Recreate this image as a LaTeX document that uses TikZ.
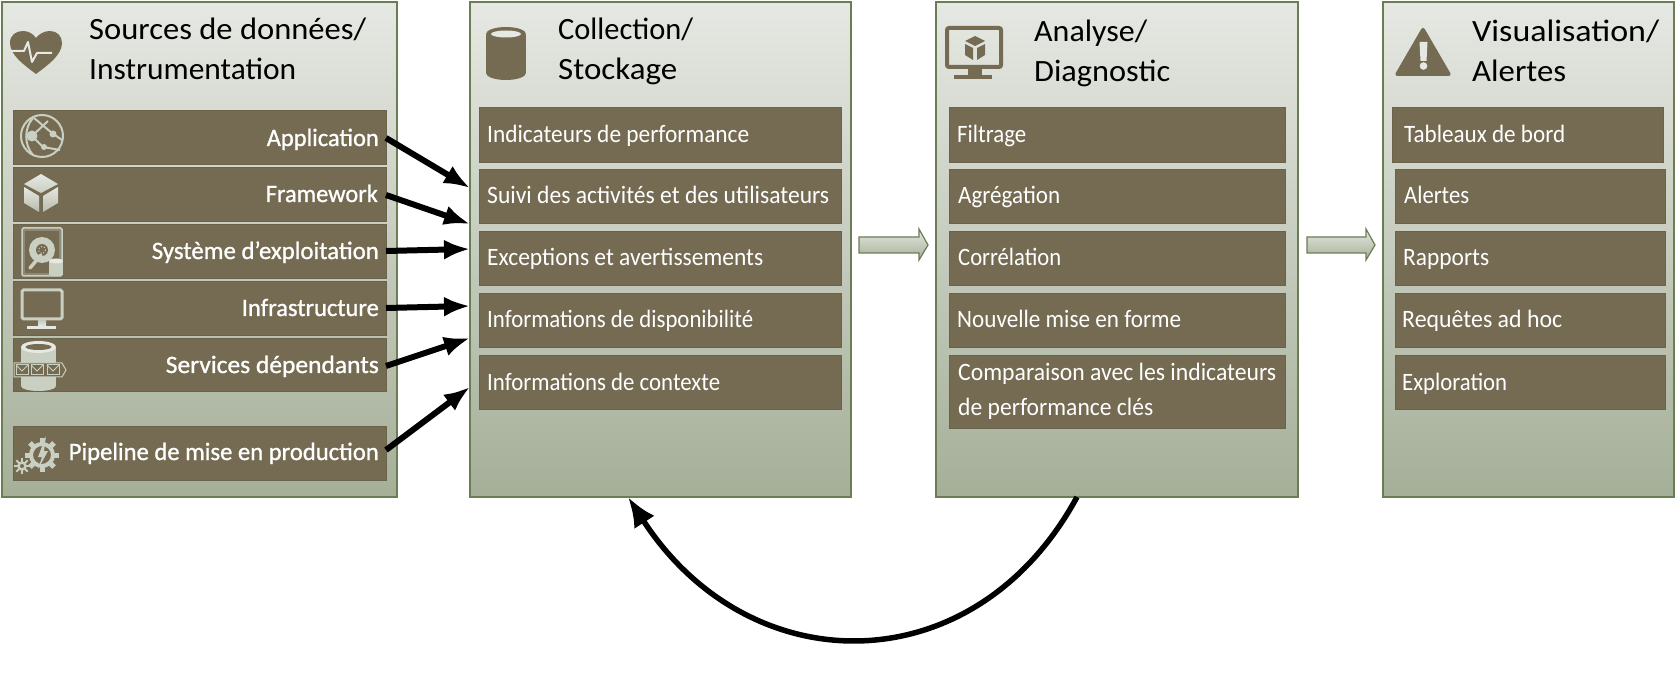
\documentclass[tikz,border=0pt]{standalone}
\usepackage{graphicx}
\usepackage{fontspec}
\setmainfont{Carlito}
\newfontfamily\boldish[FakeBold=1]{Carlito}
\usetikzlibrary{arrows.meta}
\definecolor{barfill}{HTML}{756B53}
\definecolor{barline}{HTML}{6A634C}
\definecolor{panelline}{HTML}{6B7D52}
\definecolor{ptop}{HTML}{E6E8E3}
\definecolor{pmid}{HTML}{C8CEC0}
\definecolor{pbot}{HTML}{A5AF98}
\definecolor{iconlight}{HTML}{C9CFC1}
\definecolor{iconpale}{HTML}{E6E8E2}
\tikzset{
  panel/.style={draw=panelline,line width=1.5pt,top color=ptop,middle color=pmid,bottom color=pbot,inner sep=0pt,outer sep=0pt},
  barbg/.style={draw=barline,line width=1pt,fill=barfill,inner sep=0pt,outer sep=0pt},
  title/.style={anchor=base west,inner sep=0pt,text=black,font=\fontsize{31}{36}\selectfont},
  barlabel/.style={anchor=base west,inner sep=0pt,text=white,font=\fontsize{25}{28}\selectfont},
  srclabel/.style={anchor=base east,inner sep=0pt,text=white,font=\boldish\fontsize{25}{28}\selectfont},
  flow/.style={line width=6pt,-{Latex[length=26pt,width=20pt]}},
  feedback/.style={line width=5.5pt,-{Latex[length=30pt,width=24pt]}},
  blockarrow/.style={draw=panelline,line width=1.2pt,top color=iconpale,bottom color=pbot},
  darkicon/.style={fill=barfill,draw=none},
  lighticon/.style={fill=iconlight,draw=none},
}
\newcommand{\fitw}[2]{\resizebox{#1pt}{\height}{#2}}
\newcommand{\boxat}[6]{% style name x1 y1 x2 y2
  \pgfmathsetmacro{\bw}{#5-#3}\pgfmathsetmacro{\bh}{#6-#4}
  \pgfmathsetmacro{\cx}{(#3+#5)/2}\pgfmathsetmacro{\cy}{(#4+#6)/2}
  \node[#1,minimum width=\bw pt,minimum height=\bh pt] (#2) at (\cx,\cy) {};}
\begin{document}
\begin{tikzpicture}[x=1pt,y=-1pt]
\useasboundingbox (0,0) rectangle (1676,684);
% panels
\boxat{panel}{p1}{2}{2}{397}{497}
\boxat{panel}{p2}{470}{2}{851}{497}
\boxat{panel}{p3}{936}{2}{1298}{497}
\boxat{panel}{p4}{1383}{2}{1674}{497}
% titles
\node[title] (t1a) at (89,40) {\fitw{277}{Sources de données/}};
\node[title] (t1b) at (89,80) {\fitw{207}{Instrumentation}};
\node[title] (t2a) at (558,40) {\fitw{135}{Collection/}};
\node[title] (t2b) at (558,80) {\fitw{119}{Stockage}};
\node[title] (t3a) at (1034,42) {\fitw{113}{Analyse/}};
\node[title] (t3b) at (1034,82) {\fitw{136}{Diagnostic}};
\node[title] (t4a) at (1472,42) {\fitw{187}{Visualisation/}};
\node[title] (t4b) at (1472,82) {\fitw{94}{Alertes}};
% source bars
\boxat{barbg}{a1}{13}{111}{386}{165}
\boxat{barbg}{a2}{13}{168}{386}{222}
\boxat{barbg}{a3}{13}{225}{386}{279}
\boxat{barbg}{a4}{13}{282}{386}{336}
\boxat{barbg}{a5}{13}{339}{386}{392}
\boxat{barbg}{a6}{13}{426}{386}{480}
\node[srclabel] (la1) at (379,146) {\fitw{112}{Application}};
\node[srclabel] (la2) at (378,202) {\fitw{112}{Framework}};
\node[srclabel] (la3) at (379,259) {\fitw{227}{Système d’exploitation}};
\node[srclabel] (la4) at (379,316) {\fitw{137}{Infrastructure}};
\node[srclabel] (la5) at (379,373) {\fitw{213}{Services dépendants}};
\node[srclabel] (la6) at (379,460) {\fitw{310}{Pipeline de mise en production}};
% collection bars
\boxat{barbg}{b1}{479}{108}{841}{163}
\boxat{barbg}{b2}{479}{170}{841}{224}
\boxat{barbg}{b3}{479}{232}{841}{286}
\boxat{barbg}{b4}{479}{294}{841}{348}
\boxat{barbg}{b5}{479}{356}{841}{410}
\node[barlabel] (lb1) at (487,143) {\fitw{262}{Indicateurs de performance}};
\node[barlabel] (lb2) at (487,204) {\fitw{342}{Suivi des activités et des utilisateurs}};
\node[barlabel] (lb3) at (487,266) {\fitw{276}{Exceptions et avertissements}};
\node[barlabel] (lb4) at (487,328) {\fitw{266}{Informations de disponibilité}};
\node[barlabel] (lb5) at (487,390) {\fitw{233}{Informations de contexte}};
% analysis bars
\boxat{barbg}{c1}{949}{108}{1285}{163}
\boxat{barbg}{c2}{949}{170}{1285}{224}
\boxat{barbg}{c3}{949}{232}{1285}{286}
\boxat{barbg}{c4}{949}{294}{1285}{348}
\boxat{barbg}{c5}{949}{356}{1285}{428}
\node[barlabel] (lc1) at (957,143) {\fitw{69}{Filtrage}};
\node[barlabel] (lc2) at (958,204) {\fitw{102}{Agrégation}};
\node[barlabel] (lc3) at (958,266) {\fitw{103}{Corrélation}};
\node[barlabel] (lc4) at (957,328) {\fitw{224}{Nouvelle mise en forme}};
\node[barlabel] (lc5a) at (958,381) {\fitw{318}{Comparaison avec les indicateurs}};
\node[barlabel] (lc5b) at (958,415) {\fitw{195}{de performance clés}};
% visualisation bars
\boxat{barbg}{d1}{1392}{108}{1663}{163}
\boxat{barbg}{d2}{1395}{170}{1665}{224}
\boxat{barbg}{d3}{1395}{232}{1665}{286}
\boxat{barbg}{d4}{1395}{294}{1665}{348}
\boxat{barbg}{d5}{1395}{356}{1665}{410}
\node[barlabel] (ld1) at (1404,143) {\fitw{161}{Tableaux de bord}};
\node[barlabel] (ld2) at (1404,204) {\fitw{65}{Alertes}};
\node[barlabel] (ld3) at (1403,266) {\fitw{86}{Rapports}};
\node[barlabel] (ld4) at (1402,328) {\fitw{160}{Requêtes ad hoc}};
\node[barlabel] (ld5) at (1402,390) {\fitw{105}{Exploration}};
% connector ends
\coordinate (e1) at (470,188);
\coordinate (e2) at (470,224);
\coordinate (e3) at (470,249);
\coordinate (e4) at (470,306);
\coordinate (e5) at (470,338);
\coordinate (e6) at (470,387);
\draw[flow] (a1.east |- 0,138) -- (e1);
\draw[flow] (a2.east |- 0,195) -- (e2);
\draw[flow] (a3.east |- 0,251) -- (e3);
\draw[flow] (a4.east |- 0,308) -- (e4);
\draw[flow] (a5.east |- 0,366) -- (e5);
\draw[flow] (a6.east |- 0,450) -- (e6);
% feedback
\coordinate (fbs) at (1077,497);
\coordinate (fbe) at (628,497);
\draw[feedback] (fbs) .. controls (975,685) and (750,685) .. (fbe);
% block arrows
\draw[blockarrow] (859,237) -- (919,237) -- (919,229) -- (928,245) -- (919,260) -- (919,253) -- (859,253) -- cycle;
\draw[blockarrow] (1307,237) -- (1366,237) -- (1366,229) -- (1375,245) -- (1366,260) -- (1366,253) -- (1307,253) -- cycle;
% --- heart icon
\path[darkicon] (36,74) .. controls (24,65) and (10,55) .. (10,43) .. controls (10,35) and (16,31) .. (23,31) .. controls (29,31) and (33,34) .. (36,38) .. controls (39,34) and (44,31) .. (50,31) .. controls (57,31) and (62,36) .. (62,43) .. controls (62,55) and (48,65) .. (36,74) -- cycle;
\draw[ptop,line width=2pt,line join=round] (11,51) -- (24,51) -- (28,42) -- (32,62) -- (37,53) -- (52,53);
% --- globe icon
\draw[iconlight,line width=2pt] (42,136) circle (21);
\draw[iconlight,line width=2pt] (33,118) .. controls (24,128) and (24,145) .. (33,155);
\draw[iconlight,line width=2pt] (32,136) -- (43,147) -- (60,150);
\draw[iconlight,line width=2pt] (32,136) -- (48,121) ;
\draw[iconlight,line width=2pt] (34,118) -- (52,133) -- (62,140);
\fill[iconlight] (32,136) circle (5.5);
\fill[iconlight] (53,134) circle (3.5);
\fill[iconlight] (44,147) circle (3);
% --- cube icon
\path[top color=iconpale,bottom color=iconlight] (41,174) -- (58,184) -- (41,193) -- (24,184) -- cycle;
\path[top color=iconpale,bottom color=iconlight!80!barfill] (24,187) -- (39,196) -- (39,212) -- (24,203) -- cycle;
\path[top color=iconpale,bottom color=iconlight!80!barfill] (58,187) -- (43,196) -- (43,212) -- (58,203) -- cycle;
% --- disk icon
\draw[iconlight,line width=1.5pt,fill=barfill!70!iconlight,rounded corners=1.5pt] (22,228) rectangle (62,276);
\fill[barfill] (25,231) rectangle (59,273);
\fill[iconlight] (42,250) circle (13);
\fill[barfill] (42,250) circle (6);
\draw[iconlight,dotted,line width=1pt] (42,250) circle (3.5);
\draw[iconlight,line width=3.5pt,line cap=round] (30,268) -- (41,255);
\fill[iconlight] (49,261) rectangle (63,274);
\fill[iconpale] (56,261) ellipse (7 and 2.5);
\fill[iconlight] (56,274) ellipse (7 and 2.5);
% --- monitor icon
\draw[iconlight,line width=3pt,rounded corners=1.5pt] (22,290) rectangle (62,319);
\path[top color=iconlight,bottom color=iconpale] (38,321) rectangle (46,326);
\fill[iconpale] (27,326) rectangle (56,329);
% --- services icon
\fill[iconlight] (21,347) rectangle (56,386);
\fill[iconlight] (38.5,386) ellipse (17.5 and 5);
\fill[iconpale] (38.5,347) ellipse (17.5 and 6);
\fill[barfill] (38.5,347) ellipse (13 and 3);
\draw[iconlight,fill=barfill,line width=1pt] (14,363) -- (62,363) -- (66,370) -- (62,377) -- (14,377) -- cycle;
\foreach \ex in {16,31,47}{
  \draw[iconlight,line width=1pt] (\ex,365) rectangle (\ex+12,375);
  \draw[iconlight,line width=1pt] (\ex,365) -- (\ex+6,371) -- (\ex+12,365);
}
% --- gears icon
\foreach \ang in {0,45,...,315}{
  \fill[iconlight,rotate around={\ang:(42,455)}] (39.5,438) rectangle (44.5,445);
  \fill[iconlight,rotate around={\ang:(22,466)}] (21,458) rectangle (23,462);
}
\draw[iconlight,line width=4pt] (42,455) circle (11);
\draw[iconlight,line width=2.5pt] (22,466) circle (3.5);
\fill[iconlight] (46,436) -- (38,457) -- (42,457) -- (38,469) -- (48,451) -- (44,451) -- cycle;
% --- cylinder icon
\fill[barfill] (486,35) rectangle (526,73);
\fill[barfill] (506,73) ellipse (20 and 7);
\fill[barfill] (506,34) ellipse (20 and 7);
\fill[ptop] (506,34) ellipse (15 and 3.5);
% --- analysis monitor
\draw[barfill,line width=4pt,rounded corners=2pt] (947,28) rectangle (1001,67);
\fill[barfill] (968,68) rectangle (982,75);
\fill[barfill] (954,75) rectangle (992,79);
\fill[barfill] (975,36) -- (985,41) -- (975,46) -- (965,41) -- cycle;
\fill[barfill] (965,44) -- (973,48) -- (973,60) -- (965,55) -- cycle;
\fill[barfill] (985,44) -- (977,48) -- (977,60) -- (985,55) -- cycle;
% --- warning icon
\fill[barfill,rounded corners=3.5pt] (1423,26) -- (1452,76) -- (1394,76) -- cycle;
\fill[ptop] (1419.5,42) -- (1427.5,42) -- (1426.5,61) -- (1420.5,61) -- cycle;
\fill[ptop] (1423.5,66) circle (3.8);
\end{tikzpicture}
\end{document}
